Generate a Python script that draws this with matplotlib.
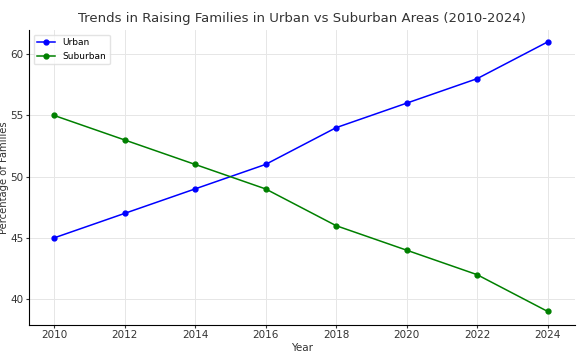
import matplotlib
matplotlib.use("Agg")
import matplotlib.pyplot as plt

years = [2010, 2012, 2014, 2016, 2018, 2020, 2022, 2024]
urban = [45, 47, 49, 51, 54, 56, 58, 61]
suburban = [55, 53, 51, 49, 46, 44, 42, 39]

fig, ax = plt.subplots(figsize=(5.8, 3.59), dpi=100)
ax.plot(years, urban, marker="o", markersize=3.5, linewidth=1.1, color="blue", label="Urban")
ax.plot(years, suburban, marker="o", markersize=3.5, linewidth=1.1, color="green", label="Suburban")

ax.set_title("Trends in Raising Families in Urban vs Suburban Areas (2010-2024)", fontsize=9.5, color="#333333")
ax.set_xlabel("Year", fontsize=7.5, color="#333333", labelpad=2)
ax.set_ylabel("Percentage of Families", fontsize=7.2, color="#333333", labelpad=1)
ax.set_xticks(years)
ax.set_yticks([40, 45, 50, 55, 60])
ax.set_xlim(2009.29, 2024.77)
ax.set_ylim(37.9, 61.96)
ax.tick_params(labelsize=7.5, length=2, width=0.8, pad=2, colors="#333333")
ax.grid(True, color="#e6e6e6", linewidth=0.7)
for side in ["top", "right"]:
    ax.spines[side].set_visible(False)
ax.legend(loc="upper left", fontsize=6.5, framealpha=0.8, edgecolor="#dddddd")

plt.subplots_adjust(left=0.05, right=0.991, top=0.916, bottom=0.095)
fig.savefig("out.png", dpi=100)
